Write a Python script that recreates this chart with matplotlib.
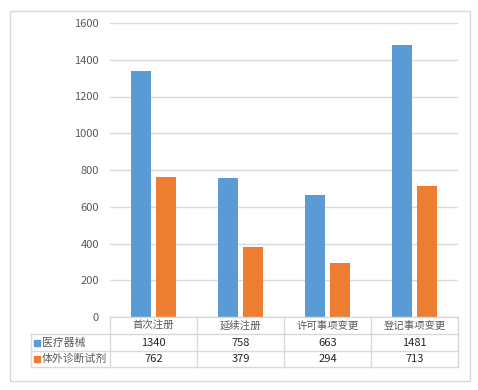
import matplotlib.pyplot as plt
import numpy as np
from matplotlib.patches import Rectangle

plt.rcParams['font.family'] = ['Noto Sans CJK SC', 'DejaVu Sans']

categories = ["首次注册", "延续注册", "许可事项变更", "登记事项变更"]
series_names = ["医疗器械", "体外诊断试剂"]
device_counts = [1340, 758, 663, 1481]
ivd_counts = [762, 379, 294, 713]
colors = ["#5B9BD5", "#ED7D31"]
yticks = [0, 200, 400, 600, 800, 1000, 1200, 1400, 1600]

W, H = 478, 390
fig = plt.figure(figsize=(W / 100, H / 100), dpi=100)


def fx(x):
    return x / W


def fy(y):
    return 1 - y / H


# plot area in pixel coords
left, right, top, bottom = 110, 458, 23, 317
ax = fig.add_axes([fx(left), fy(bottom), fx(right - left), (bottom - top) / H])

x = np.arange(len(categories))
bw = 0.225
off = 0.142
ax.bar(x - off, device_counts, bw, color=colors[0], zorder=3)
ax.bar(x + off, ivd_counts, bw, color=colors[1], zorder=3)
ax.set_xlim(-0.5, len(categories) - 0.5)
ax.set_ylim(0, 1600)
ax.set_yticks(yticks)
ax.set_yticklabels([str(t) for t in yticks], fontsize=8, color="#595959")
ax.tick_params(axis="y", length=0, pad=8)
ax.set_xticks([])
ax.grid(axis="y", color="#d9d9d9", linewidth=1, zorder=0)
for s in ax.spines.values():
    s.set_visible(False)

# outer chart border
fig.patches.append(Rectangle((fx(10), fy(381)), fx(460), (381 - 11) / H,
                             transform=fig.transFigure, fill=False,
                             edgecolor="#d9d9d9", linewidth=1))

# data table under the axis
line_c = "#d9d9d9"
col_x = [110, 197, 284, 371, 458]
rows_y = [317, 334, 351, 367]
label_x0 = 31


def hline(y, x0, x1):
    fig.add_artist(plt.Line2D([fx(x0), fx(x1)], [fy(y), fy(y)], color=line_c, lw=1))


def vline(x, y0, y1):
    fig.add_artist(plt.Line2D([fx(x), fx(x)], [fy(y0), fy(y1)], color=line_c, lw=1))


hline(rows_y[0], col_x[0], col_x[-1])
for y in rows_y[1:]:
    hline(y, label_x0, col_x[-1])
vline(label_x0, rows_y[1], rows_y[-1])
for cx in col_x:
    vline(cx, rows_y[0], rows_y[-1])

for i, cat in enumerate(categories):
    cxm = (col_x[i] + col_x[i + 1]) / 2
    fig.text(fx(cxm), fy((rows_y[0] + rows_y[1]) / 2), cat, ha="center", va="center",
             fontsize=7.5, color="#595959")

for r, (name, vals) in enumerate(zip(series_names, [device_counts, ivd_counts])):
    ym = (rows_y[r + 1] + rows_y[r + 2]) / 2
    fig.patches.append(Rectangle((fx(34), fy(ym + 3)), fx(6), 6 / H,
                                 transform=fig.transFigure, color=colors[r]))
    fig.text(fx(42), fy(ym), name, ha="left", va="center", fontsize=7.8, color="#595959")
    for i, v in enumerate(vals):
        cxm = (col_x[i] + col_x[i + 1]) / 2
        fig.text(fx(cxm), fy(ym), str(v), ha="center", va="center",
                 fontsize=8, color="#262626")

fig.savefig("out.png", dpi=100, facecolor="white")
